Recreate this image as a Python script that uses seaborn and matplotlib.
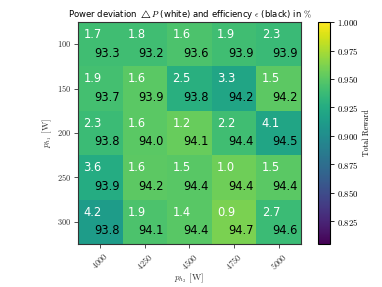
import numpy as np
import pandas as pd
import seaborn as sns
import matplotlib

matplotlib.use("Agg", force=True)
import matplotlib.pyplot as plt
from matplotlib.ticker import FuncFormatter

# grid axes
p_h1 = [100, 150, 200, 250, 300]
p_h2 = [4000, 4250, 4500, 4750, 5000]

# total reward (colour)
reward = [
    [0.940, 0.940, 0.945, 0.940, 0.937],
    [0.942, 0.950, 0.928, 0.920, 0.951],
    [0.938, 0.950, 0.955, 0.940, 0.920],
    [0.925, 0.951, 0.949, 0.957, 0.950],
    [0.912, 0.945, 0.949, 0.961, 0.938],
]
# power deviation in % (white)
deviation = [
    [1.7, 1.8, 1.6, 1.9, 2.3],
    [1.9, 1.6, 2.5, 3.3, 1.5],
    [2.3, 1.6, 1.2, 2.2, 4.1],
    [3.6, 1.6, 1.5, 1.0, 1.5],
    [4.2, 1.9, 1.4, 0.9, 2.7],
]
# efficiency in % (black)
efficiency = [
    [93.3, 93.2, 93.6, 93.9, 93.9],
    [93.7, 93.9, 93.8, 94.2, 94.2],
    [93.8, 94.0, 94.1, 94.4, 94.5],
    [93.9, 94.2, 94.4, 94.4, 94.4],
    [93.8, 94.1, 94.4, 94.7, 94.6],
]

plt.rcParams["mathtext.fontset"] = "cm"
serif = "cmr10"

df = pd.DataFrame(reward, index=p_h1, columns=p_h2)

fig = plt.figure(figsize=(3.82, 2.87), dpi=100)
ax = fig.add_axes([0.204, 0.150, 0.584, 0.773])
cax = fig.add_axes([0.832, 0.150, 0.032, 0.773])

sns.heatmap(df, ax=ax, cbar_ax=cax, cmap="viridis", vmin=0.805, vmax=1.0,
            cbar_kws={"ticks": [0.825, 0.85, 0.875, 0.9, 0.925, 0.95, 0.975, 1.0]})

for i in range(len(p_h1)):
    for j in range(len(p_h2)):
        ax.text(j + 0.12, i + 0.28, f"{deviation[i][j]:.1f}", color="white",
                ha="left", va="center", fontsize=8.3)
        ax.text(j + 0.93, i + 0.70, f"{efficiency[i][j]:.1f}", color="black",
                ha="right", va="center", fontsize=8.3)

for s in ax.spines.values():
    s.set_visible(True)
    s.set_color("#333333")
    s.set_linewidth(0.8)

ax.set_xticklabels([f"${v}$" for v in p_h2], rotation=45, fontsize=6)
ax.set_yticklabels([f"${v}$" for v in p_h1], rotation=0, fontsize=6)
ax.tick_params(length=3, width=0.6, pad=2, colors="#333333")
ax.set_xlabel(r"$p_{h_2}$ [W]", fontsize=6.5, family=serif, color="#333333", labelpad=0)
ax.set_ylabel(r"$p_{h_1}$ [W]", fontsize=6.5, family=serif, color="#333333", labelpad=2)
ax.set_title(r"Power deviation $\triangle P$ (white) and efficiency $\epsilon$ (black) in $\%$",
             fontsize=6.1, pad=4)

cbar = ax.collections[0].colorbar
cbar.outline.set_visible(True)
cbar.outline.set_linewidth(0.8)
cbar.ax.yaxis.set_major_formatter(FuncFormatter(lambda v, p: f"${v:.3f}$"))
cbar.ax.tick_params(labelsize=6.3, length=3, width=0.6, pad=2)
cbar.set_label("Total Reward", fontsize=5.6, family=serif, labelpad=3)

fig.savefig("out.png", dpi=100)
